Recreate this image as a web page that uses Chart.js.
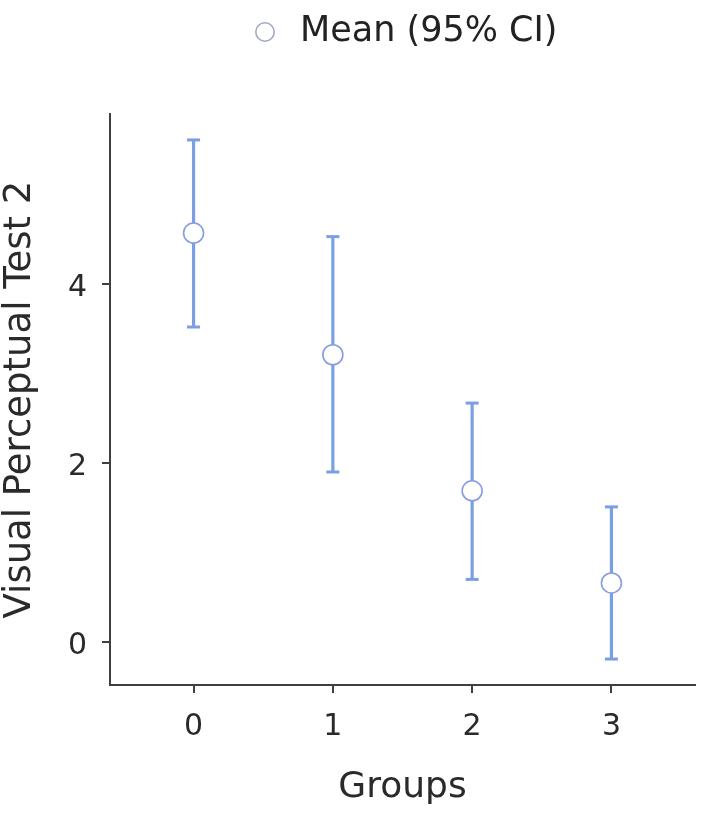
<!DOCTYPE html>
<html>
<head>
<meta charset="utf-8">
<script src="https://cdn.jsdelivr.net/npm/chart.js@4/dist/chart.umd.min.js"></script>
<style>
  html, body { margin: 0; padding: 0; background: #ffffff; }
  #wrap { width: 709px; height: 827px; }
</style>
</head>
<body>
<div id="wrap"><canvas id="c" width="709" height="827"></canvas></div>
<script>
// ---- data ----
const groups = [0, 1, 2, 3];
const means  = [4.57, 3.21, 1.69, 0.66];
const lower  = [3.52, 1.90, 0.70, -0.19];
const upper  = [5.61, 4.53, 2.67, 1.51];
const xTicks = [0, 1, 2, 3];
const yTicks = [0, 2, 4];
const seriesLabel = 'Mean (95% CI)';
const xTitle = 'Groups';
const yTitle = 'Visual Perceptual Test 2';

const FONT = "'DejaVu Sans', sans-serif";
const barColor = '#7b9fe3';
const pointBorder = '#8a9ce2';
const axisColor = '#3f3f3f';

const datasets = [{
  label: seriesLabel,
  data: groups.map((g, i) => ({ x: g, y: means[i] })),
  showLine: false,
  pointStyle: 'circle',
  pointRadius: 10,
  pointHoverRadius: 10,
  pointBackgroundColor: '#ffffff',
  pointBorderColor: pointBorder,
  pointBorderWidth: 1.6,
  borderColor: pointBorder,
  backgroundColor: '#ffffff',
  order: 0
}];
groups.forEach((g, i) => {
  datasets.push({
    label: 'ci' + i,
    data: [{ x: g, y: lower[i] }, { x: g, y: upper[i] }],
    borderColor: barColor,
    borderWidth: 3.2,
    pointStyle: 'line',
    pointRadius: 6.5,
    pointHoverRadius: 6.5,
    pointBorderColor: barColor,
    pointBorderWidth: 3,
    fill: false,
    order: 1
  });
});

new Chart(document.getElementById('c'), {
  type: 'line',
  data: { datasets },
  options: {
    responsive: false,
    animation: false,
    events: [],
    layout: { autoPadding: false, padding: { left: 0, right: 14, top: 0, bottom: 0 } },
    plugins: {
      tooltip: { enabled: false },
      legend: {
        display: true,
        position: 'top',
        fullSize: false,
        weight: 3000,
        labels: {
          usePointStyle: true,
          boxWidth: 35,
          boxHeight: 13,
          padding: 14.5,
          color: '#222222',
          font: { family: FONT, size: 35 },
          filter: item => item.datasetIndex === 0,
          generateLabels: chart => {
            const base = Chart.defaults.plugins.legend.labels.generateLabels(chart);
            return base.map(l => Object.assign(l, { strokeStyle: '#a0a9c6', fillStyle: '#ffffff', lineWidth: 1.6 }));
          }
        }
      },
      title: {
        display: true,
        text: '',
        fullSize: false,
        position: 'top',
        font: { size: 10, lineHeight: 1 },
        padding: { top: 0, bottom: 44.5 }
      }
    },
    scales: {
      x: {
        type: 'linear',
        min: -0.6,
        max: 3.6,
        afterBuildTicks: s => { s.ticks = xTicks.map(v => ({ value: v })); },
        afterFit: s => { s.height = 142; },
        grid: { display: true, drawOnChartArea: false, drawTicks: true, tickLength: 8, color: axisColor, lineWidth: 2 },
        border: { display: true, color: axisColor, width: 2 },
        ticks: { color: '#2a2a2a', font: { family: FONT, size: 30 }, padding: 16, maxRotation: 0, autoSkip: false },
        title: { display: true, text: xTitle, color: '#2a2a2a', font: { family: FONT, size: 36, lineHeight: 1.2 }, padding: { top: 0, bottom: 18 } }
      },
      y: {
        type: 'linear',
        min: -0.48,
        max: 5.90,
        afterBuildTicks: s => { s.ticks = yTicks.map(v => ({ value: v })); },
        afterFit: s => { s.width = 110; },
        grid: { display: true, drawOnChartArea: false, drawTicks: true, tickLength: 8, color: axisColor, lineWidth: 2 },
        border: { display: true, color: axisColor, width: 2 },
        ticks: { color: '#2a2a2a', font: { family: FONT, size: 30 }, padding: 15, labelOffset: 4, autoSkip: false },
        title: { display: true, text: yTitle, color: '#2a2a2a', font: { family: FONT, size: 37, lineHeight: 0.9 }, padding: { top: 4, bottom: 0 } }
      }
    }
  }
});
</script>
</body>
</html>
